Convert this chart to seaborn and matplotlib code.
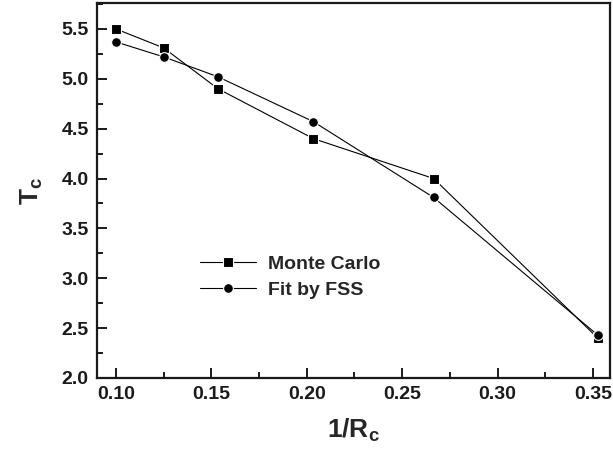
import matplotlib
matplotlib.use("Agg")
import matplotlib.pyplot as plt
from matplotlib.ticker import MultipleLocator
import seaborn as sns
import pandas as pd

# Inverse critical radius and critical temperature
inv_rc = [0.100, 0.125, 0.1535, 0.2035, 0.2665, 0.3525]
tc_monte_carlo = [5.50, 5.31, 4.90, 4.40, 4.00, 2.40]
tc_fit_fss = [5.37, 5.22, 5.02, 4.57, 3.81, 2.43]
series_names = ["Monte Carlo", "Fit by FSS"]

df = pd.concat([
    pd.DataFrame({"x": inv_rc, "y": tc_monte_carlo, "series": series_names[0]}),
    pd.DataFrame({"x": inv_rc, "y": tc_fit_fss, "series": series_names[1]}),
])

sns.set_style("ticks")
plt.rcParams["font.family"] = ["Liberation Sans", "DejaVu Sans"]
plt.rcParams["font.weight"] = "bold"
plt.rcParams["mathtext.fontset"] = "custom"
plt.rcParams["mathtext.rm"] = "Liberation Sans:bold"
plt.rcParams["mathtext.it"] = "Liberation Sans:bold"
plt.rcParams["mathtext.bf"] = "Liberation Sans:bold"

fig = plt.figure(figsize=(6.13, 4.63), dpi=100)
ax = fig.add_axes([97 / 613, 1 - 378 / 463, (610 - 97) / 613, (378 - 3) / 463])

sns.lineplot(data=df, x="x", y="y", hue="series", style="series",
             markers={"Monte Carlo": "s", "Fit by FSS": "o"}, dashes=False,
             palette={"Monte Carlo": "black", "Fit by FSS": "black"},
             markersize=7, markeredgecolor="white", markeredgewidth=0.8,
             linewidth=0.8, sort=False, ax=ax)

ax.xaxis.set_major_locator(MultipleLocator(0.05))
ax.xaxis.set_minor_locator(MultipleLocator(0.025))
ax.yaxis.set_major_locator(MultipleLocator(0.5))
ax.yaxis.set_minor_locator(MultipleLocator(0.25))
ax.set_xlim(0.0901, 0.3589)
ax.set_ylim(2.0, 5.76)
ax.xaxis.set_major_formatter(lambda v, pos: f"{v:.2f}")
ax.yaxis.set_major_formatter(lambda v, pos: f"{v:.1f}")

for s in ax.spines.values():
    s.set_visible(True)
    s.set_linewidth(1.6)
    s.set_color("#1a1a1a")
ax.tick_params(which="major", direction="in", length=7, width=1.4,
               labelsize=14, pad=6, colors="#1a1a1a")
ax.tick_params(which="minor", direction="in", length=4, width=1.4,
               colors="#1a1a1a")

ax.set_xlabel(r"$\mathrm{1/R_c}$", fontsize=19, labelpad=10)
ax.set_ylabel(r"$\mathrm{T_c}$", fontsize=19, labelpad=12)

handles, labels = ax.get_legend_handles_labels()
leg = ax.legend(handles, labels, loc="center left",
                bbox_to_anchor=((200 - 97) / 513, 1 - (277 - 3) / 375),
                frameon=False, fontsize=14, handlelength=2.9,
                handletextpad=0.6, labelspacing=0.45, borderaxespad=0,
                borderpad=0)
for t in leg.get_texts():
    t.set_fontweight("bold")

fig.savefig("out.png", dpi=100)
